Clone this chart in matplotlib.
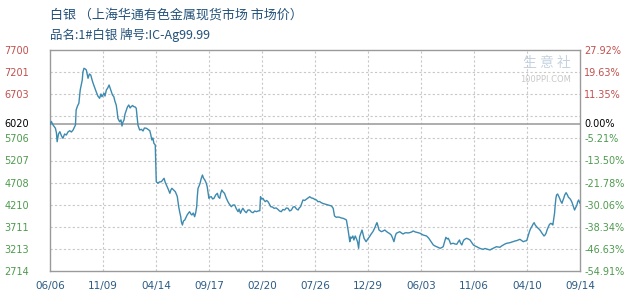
import matplotlib
matplotlib.use("Agg")
import matplotlib.pyplot as plt
import numpy as np

plt.rcParams['font.family'] = ['Noto Sans CJK SC', 'DejaVu Sans']

title_text = "白银 （上海华通有色金属现货市场 市场价）"
subtitle_text = "品名:1#白银 牌号:IC-Ag99.99"

# days since 2012-06-06
day = [0, 4, 9, 16, 19, 21, 25, 29, 34, 38, 43, 48, 53, 58, 63, 68, 75, 77, 81, 85,
       89, 92, 95, 97, 100, 104, 107, 110, 112, 116, 120, 124, 127, 132, 136, 141, 146, 150, 153, 159,
       162, 166, 170, 174, 177, 181, 184, 188, 191, 195, 198, 200, 205, 209, 212, 215, 218, 221, 225, 228,
       232, 236, 239, 243, 247, 251, 254, 256, 259, 264, 269, 274, 278, 284, 289, 294, 297, 300, 303, 306,
       310, 313, 318, 322, 328, 332, 336, 339, 343, 348, 353, 356, 359, 364, 369, 372, 375, 379, 382, 385,
       387, 390, 393, 397, 401, 404, 408, 411, 415, 418, 422, 426, 429, 432, 434, 436, 439, 442, 445, 449,
       452, 456, 460, 463, 468, 471, 475, 479, 483, 488, 493, 496, 500, 503, 506, 510, 514, 519, 524, 528,
       534, 539, 544, 549, 554, 557, 561, 565, 568, 573, 578, 583, 588, 593, 598, 603, 608, 613, 618, 620,
       623, 627, 630, 634, 638, 642, 646, 650, 655, 660, 666, 671, 676, 681, 686, 691, 696, 701, 706, 711,
       716, 721, 726, 731, 734, 738, 742, 745, 750, 755, 760, 765, 770, 775, 780, 785, 789, 794, 799, 804,
       809, 814, 819, 824, 829, 834, 838, 843, 848, 853, 858, 863, 868, 873, 875, 878, 883, 885, 888, 892,
       895, 899, 902, 906, 909, 912, 916, 919, 922, 925, 928, 931, 936, 941, 946, 951, 955, 958, 961, 963,
       966, 969, 973, 976, 981, 986, 991, 996, 1000, 1005, 1009, 1013, 1017, 1020, 1025, 1030, 1035, 1040, 1045, 1049,
       1054, 1059, 1065, 1070, 1076, 1082, 1090, 1099, 1109, 1115, 1119, 1124, 1129, 1134, 1139, 1144, 1149, 1154, 1158, 1162,
       1166, 1170, 1173, 1177, 1180, 1184, 1188, 1193, 1198, 1202, 1206, 1209, 1213, 1216, 1219, 1223, 1227, 1232, 1237, 1242,
       1247, 1252, 1257, 1261, 1266, 1271, 1276, 1281, 1286, 1291, 1296, 1301, 1305, 1310, 1315, 1320, 1325, 1330, 1335, 1340,
       1345, 1350, 1355, 1360, 1364, 1369, 1374, 1379, 1384, 1389, 1394, 1399, 1404, 1408, 1412, 1415, 1419, 1423, 1426, 1429,
       1433, 1437, 1441, 1445, 1448, 1452, 1455, 1458, 1461, 1464, 1468, 1471, 1475, 1478, 1481, 1483, 1486, 1488, 1490, 1492,
       1495, 1498, 1501, 1504, 1508, 1510, 1513, 1516, 1520, 1524, 1527, 1531, 1534, 1537, 1540, 1543, 1545, 1549, 1552, 1554,
       1557, 1559, 1561]

price = [6020, 6087, 6008, 5934, 5828, 5631, 5805, 5857, 5760, 5708, 5805, 5782, 5850, 5879, 5850, 5895, 6008, 6346, 6437, 6498,
         6798, 6910, 7023, 7204, 7287, 7271, 7249, 7136, 7062, 7159, 7136, 7023, 6949, 6843, 6759, 6662, 6610, 6707, 6646, 6723,
         6662, 6798, 6843, 6910, 6843, 6759, 6685, 6646, 6549, 6459, 6301, 6159, 6082, 6121, 5985, 6076, 6121, 6256, 6346, 6414,
         6459, 6392, 6421, 6448, 6421, 6414, 6385, 6234, 6008, 5895, 5911, 5873, 5940, 5934, 5906, 5879, 5782, 5670, 5715, 5595,
         5557, 4729, 4693, 4722, 4729, 4767, 4806, 4722, 4654, 4564, 4467, 4542, 4580, 4542, 4503, 4451, 4390, 4165, 4045, 3939,
         3820, 3752, 3842, 3865, 3932, 3978, 4023, 4052, 4000, 3978, 4023, 3939, 4023, 4165, 4406, 4580, 4632, 4693, 4790, 4880,
         4812, 4767, 4700, 4616, 4354, 4384, 4390, 4339, 4354, 4429, 4467, 4384, 4354, 4474, 4542, 4496, 4467, 4361, 4278, 4226,
         4165, 4203, 4203, 4113, 4052, 4113, 4016, 4090, 4129, 4068, 4029, 4090, 4090, 4045, 4029, 4068, 4052, 4068, 4075, 4390,
         4339, 4354, 4316, 4278, 4305, 4278, 4226, 4165, 4158, 4129, 4136, 4106, 4068, 4052, 4102, 4090, 4136, 4129, 4068, 4090,
         4158, 4165, 4113, 4090, 4136, 4165, 4248, 4316, 4305, 4332, 4361, 4390, 4361, 4354, 4327, 4316, 4278, 4282, 4255, 4237,
         4226, 4214, 4203, 4192, 4181, 4129, 3955, 3926, 3932, 3926, 3910, 3903, 3887, 3865, 3775, 3639, 3375, 3481, 3452, 3504,
         3414, 3504, 3452, 3368, 3226, 3488, 3572, 3639, 3549, 3452, 3414, 3375, 3436, 3488, 3549, 3601, 3662, 3714, 3775, 3804,
         3729, 3639, 3617, 3601, 3617, 3639, 3605, 3578, 3560, 3526, 3459, 3375, 3504, 3565, 3583, 3601, 3572, 3549, 3572, 3578,
         3572, 3578, 3594, 3617, 3594, 3583, 3565, 3526, 3504, 3459, 3414, 3357, 3301, 3278, 3262, 3244, 3226, 3244, 3262, 3368,
         3475, 3436, 3452, 3391, 3323, 3335, 3339, 3323, 3317, 3368, 3414, 3346, 3301, 3368, 3414, 3436, 3452, 3436, 3414, 3357,
         3301, 3278, 3262, 3244, 3226, 3211, 3204, 3222, 3211, 3199, 3188, 3211, 3226, 3244, 3262, 3256, 3249, 3278, 3301, 3323,
         3339, 3346, 3353, 3368, 3375, 3391, 3398, 3414, 3429, 3402, 3375, 3391, 3398, 3504, 3601, 3662, 3714, 3775, 3804, 3752,
         3714, 3684, 3655, 3617, 3578, 3538, 3504, 3526, 3565, 3639, 3714, 3763, 3790, 3775, 3752, 3865, 4016, 4203, 4354, 4429,
         4451, 4406, 4354, 4293, 4242, 4293, 4354, 4429, 4481, 4429, 4377, 4350, 4316, 4271, 4203, 4136, 4090, 4158, 4203, 4271,
         4316, 4282, 4242]

base_price = 6020
y_min, y_max = 2714, 7700
left_labels = ["2714", "3213", "3711", "4210", "4708", "5207", "5706", "", "6703", "7201", "7700"]
right_labels = ["-54.91%", "-46.63%", "-38.34%", "-30.06%", "-21.78%", "-13.50%", "-5.21%", "", "11.35%", "19.63%", "27.92%"]
x_labels = ["06/06", "11/09", "04/14", "09/17", "02/20", "07/26", "12/29", "06/03", "11/06", "04/10", "09/14"]
total_days = 1561

RED = "#c0504d"
GREEN = "#4e9a4e"
GRID = "#c8c8c8"
FRAME = "#9a9a9a"
FS = 7

fig = plt.figure(figsize=(6.3, 3.0), dpi=100)
ax = fig.add_axes([50/630, 29/300, 530/630, 221/300])

ax.plot(day, price, color="#3d8ab0", lw=1.0, zorder=3)

ax.set_xlim(0, total_days)
ax.set_ylim(y_min, y_max)

yt = np.linspace(y_min, y_max, 11)
xt = np.linspace(0, total_days, 11)
for v in yt[1:-1]:
    ax.axhline(v, color=GRID, lw=0.8, ls=(0, (2, 2)), zorder=1)
for v in xt[1:-1]:
    ax.axvline(v, color=GRID, lw=0.8, ls=(0, (2, 2)), zorder=1)
ax.axhline(base_price, color="#a0a0a0", lw=1.2, zorder=2)

for s in ax.spines.values():
    s.set_color(FRAME)
    s.set_linewidth(1.0)

ax.set_yticks(yt)
ax.set_yticklabels(left_labels)
ax.tick_params(axis='y', length=0, pad=15, labelsize=FS)
for lab, v in zip(ax.get_yticklabels(), yt):
    lab.set_color(RED if v > base_price else GREEN)
    lab.set_family('DejaVu Sans')

ax.set_xticks(xt)
ax.set_xticklabels(x_labels)
ax.tick_params(axis='x', length=0, pad=7, labelsize=7.5, colors="#2b5b84")
for lab in ax.get_xticklabels():
    lab.set_family('DejaVu Sans')

ax2 = ax.twinx()
ax2.set_ylim(y_min, y_max)
ax2.set_yticks(yt)
ax2.set_yticklabels(right_labels)
ax2.tick_params(axis='y', length=0, pad=3, labelsize=FS)
for lab, v in zip(ax2.get_yticklabels(), yt):
    lab.set_color(RED if v > base_price else GREEN)
    lab.set_family('DejaVu Sans')
for s in ax2.spines.values():
    s.set_visible(False)

# base price labels
ax.text(-21 / 530, base_price, "6020", transform=ax.get_yaxis_transform(), ha='right', va='center',
        fontsize=FS, color="black", family='DejaVu Sans')
ax.text(1 + 4 / 530, base_price, "0.00%", transform=ax.get_yaxis_transform(), ha='left', va='center',
        fontsize=FS, color="black", family='DejaVu Sans')

# watermark
fig.text(0.83, 0.79, "生 意 社", fontsize=10, color="#c5d3e0", ha='left', va='center')
fig.text(0.825, 0.735, "100PPI.COM", fontsize=6, color="#c8c8c8", ha='left', va='center', family='DejaVu Sans')

fig.text(50/630, 1 - 15/300, title_text, fontsize=9.4, color="#24527a", ha='left', va='center')
fig.text(50/630, 1 - 35/300, subtitle_text, fontsize=9, color="#24527a", ha='left', va='center')

fig.savefig("out.png", dpi=100)
